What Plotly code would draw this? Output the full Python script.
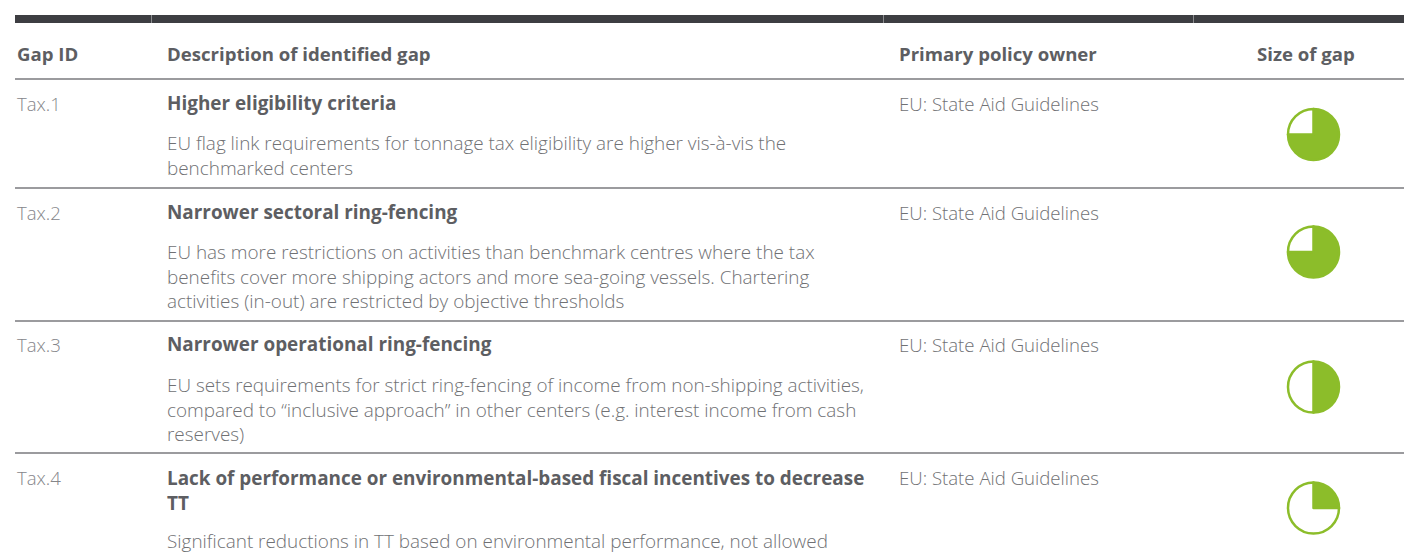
import plotly.graph_objects as go

# ---------------- data ----------------
headers = ["Gap ID", "Description of identified gap", "Primary policy owner", "Size of gap"]
gap_ids = ["Tax.1", "Tax.2", "Tax.3", "Tax.4"]
titles = [
    ["Higher eligibility criteria"],
    ["Narrower sectoral ring-fencing"],
    ["Narrower operational ring-fencing"],
    ["Lack of performance or environmental-based fiscal incentives to decrease", "TT"],
]
descriptions = [
    ["EU flag link requirements for tonnage tax eligibility are higher vis-à-vis the",
     "benchmarked centers"],
    ["EU has more restrictions on activities than benchmark centres where the tax",
     "benefits cover more shipping actors and more sea-going vessels. Chartering",
     "activities (in-out) are restricted by objective thresholds"],
    ["EU sets requirements for strict ring-fencing of income from non-shipping activities,",
     "compared to \u201cinclusive approach\u201d in other centers (e.g. interest income from cash",
     "reserves)"],
    ["Significant reductions in TT based on environmental performance, not allowed"],
]
owners = ["EU: State Aid Guidelines"] * 4
gap_size = [0.75, 0.75, 0.5, 0.25]   # share of the Harvey ball that is filled

# ---------------- layout constants ----------------
W, H = 1404, 553
GREEN = "#8cbd2a"
DARK = "#3d3e42"
RULE = "#9b9b9e"
HEAD_C = "#5d5e62"
BODY_C = "#707174"
ID_C = "#85868a"
FONT = "Open Sans"
FS = 18.6
FS_BODY = 18.9

col_x = [15.5, 166, 898]
row_tops = [79, 188, 321, 453]
title_y = [[103], [212], [344], [477, 503]]
desc_y = [[143, 167], [253, 276, 300], [386, 409, 432], [541]]
ball_cy = [134.5, 252, 387, 508]
ball_cx = 1313.5
ball_r = 25.5

fig = go.Figure()

# invisible axes in pixel space
fig.update_xaxes(range=[0, W], visible=False, fixedrange=True)
fig.update_yaxes(range=[H, 0], visible=False, fixedrange=True)
fig.add_trace(go.Scatter(x=[0, W], y=[0, H], mode="markers", marker=dict(opacity=0), hoverinfo="skip", showlegend=False))

shapes = []
# top dark bar
shapes.append(dict(type="rect", xref="x", yref="y", x0=15, x1=W, y0=15, y1=23, fillcolor=DARK, line=dict(width=0), layer="below"))
for sx in [151.5, 883.5, 1193.5]:
    shapes.append(dict(type="line", xref="x", yref="y", x0=sx, x1=sx, y0=15, y1=23, line=dict(color="#8a8b8e", width=1)))
# horizontal rules
for ry in row_tops:
    shapes.append(dict(type="line", xref="x", yref="y", x0=15, x1=W, y0=ry, y1=ry, line=dict(color=RULE, width=2)))

annotations = []
def txt(x, ys, lines, color, weight, size, xanchor="left"):
    y = sum(ys) / len(ys)
    annotations.append(dict(x=x, y=y, xref="x", yref="y", text="<br>".join(lines), showarrow=False,
                            xanchor=xanchor, yanchor="middle", align="left", borderpad=0,
                            font=dict(family=FONT, size=size, color=color, weight=weight)))

# headers
for x, h in zip(col_x, headers[:3]):
    txt(x, [53], [h], HEAD_C, 700, FS)
txt(1306, [53], [headers[3]], HEAD_C, 700, FS, xanchor="center")

for i in range(4):
    txt(col_x[0], [title_y[i][0]], [gap_ids[i]], ID_C, 300, FS)
    txt(col_x[1], title_y[i], titles[i], HEAD_C, 700, FS_BODY)
    txt(col_x[1], desc_y[i], descriptions[i], BODY_C, 300, FS_BODY)
    txt(col_x[2], [title_y[i][0]], [owners[i]], BODY_C, 300, FS)

# Harvey balls as pie traces
for i, v in enumerate(gap_size):
    cy = ball_cy[i]
    fig.add_trace(go.Pie(
        values=[v, 1 - v], sort=False, direction="clockwise", rotation=0,
        marker=dict(colors=[GREEN, "white"], line=dict(color=GREEN, width=2.5)),
        textinfo="none", hoverinfo="skip", showlegend=False,
        domain=dict(x=[(ball_cx - ball_r) / W, (ball_cx + ball_r) / W],
                    y=[1 - (cy + ball_r) / H, 1 - (cy - ball_r) / H]),
    ))

fig.update_layout(
    width=W, height=H, margin=dict(l=0, r=0, t=0, b=0),
    paper_bgcolor="white", plot_bgcolor="white",
    shapes=shapes, annotations=annotations, showlegend=False,
)

fig.write_html(
    "out.html",
    config={"responsive": False, "displayModeBar": False},
    post_script="document.body.style.margin='0';document.body.style.overflow='hidden';"
                "Plotly.relayout(document.getElementById('{plot_id}'), {width: 1404, height: 553});",
)
